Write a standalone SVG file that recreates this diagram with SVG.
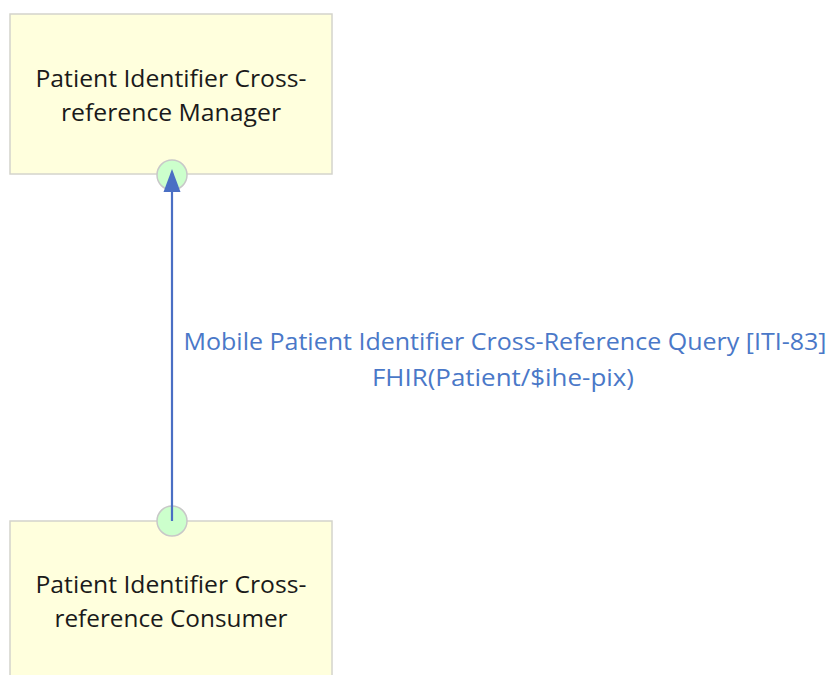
<svg xmlns="http://www.w3.org/2000/svg" width="829" height="675" viewBox="0 0 829 675">
<style>
.box{fill:#FFFFDD;stroke:#D4D4CC;stroke-width:1.5}
.port{fill:#CCFFCC;stroke:#C8C8C8;stroke-width:1.5}
.nt{font-family:"Open Sans","Liberation Sans",sans-serif;font-size:23px;fill:#1a1a1a;text-anchor:middle}
.lbl{font-family:"Open Sans","Liberation Sans",sans-serif;font-size:23px;fill:#4A78C8;text-anchor:middle}
.edge{stroke:#4A6FC4;stroke-width:2.2;fill:none}
</style>
<g id="manager">
<rect class="box" x="10" y="14" width="322" height="160"/>
<text class="nt" x="171" y="87" textLength="271" lengthAdjust="spacingAndGlyphs">Patient Identifier Cross-</text>
<text class="nt" x="171" y="121" textLength="220" lengthAdjust="spacingAndGlyphs">reference Manager</text>
</g>
<g id="consumer">
<rect class="box" x="10" y="521" width="322" height="170"/>
<text class="nt" x="171" y="593" textLength="271" lengthAdjust="spacingAndGlyphs">Patient Identifier Cross-</text>
<text class="nt" x="171" y="627" textLength="233" lengthAdjust="spacingAndGlyphs">reference Consumer</text>
</g>
<g id="ports">
<circle class="port" cx="172" cy="175" r="15"/>
<circle class="port" cx="172" cy="521" r="15"/>
</g>
<g id="connectors">
<line x1="172" y1="521" x2="172" y2="192" class="edge"/>
<path d="M172,169 L180.5,192 L163.5,192 Z" fill="#4A6FC4"/>
<text class="lbl" x="505" y="350" textLength="643" lengthAdjust="spacingAndGlyphs">Mobile Patient Identifier Cross-Reference Query [ITI-83]</text>
<text class="lbl" x="503" y="386" textLength="262" lengthAdjust="spacingAndGlyphs">FHIR(Patient/$ihe-pix)</text>
</g>
</svg>
